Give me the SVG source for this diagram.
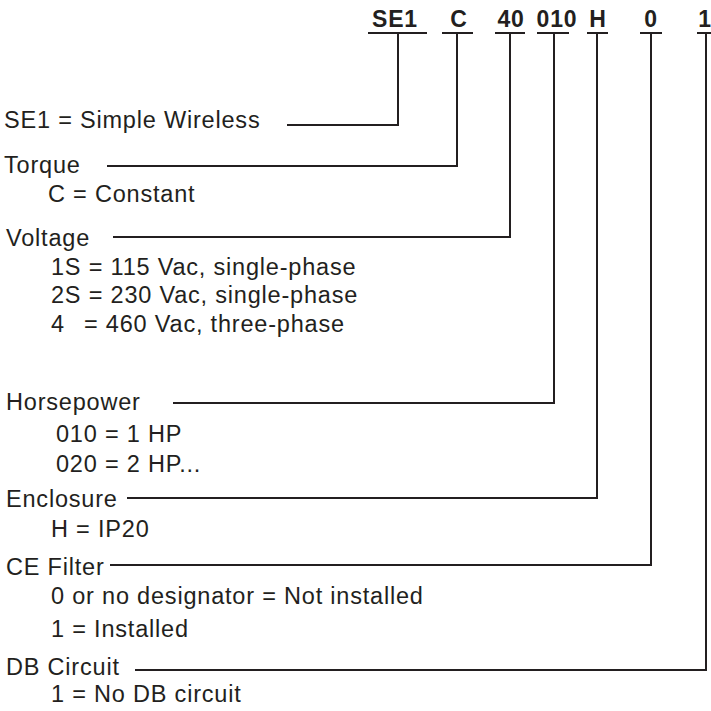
<svg xmlns="http://www.w3.org/2000/svg" width="711" height="711" viewBox="0 0 711 711">
<style>
  text { font-family: "Liberation Sans", Arial, sans-serif; fill: #231f20; }
  .lbl { font-size: 23.5px; letter-spacing: 0.8px; }
  .code { font-size: 23px; font-weight: bold; letter-spacing: 0.8px; text-anchor: middle; }
  .ul { stroke: #231f20; stroke-width: 2; fill: none; }
  .conn { stroke: #231f20; stroke-width: 2; fill: none; }
</style>
<rect width="711" height="711" fill="#ffffff"/>
<g id="code">
  <g id="code-se1"><text class="code" x="395" y="27">SE1</text><line class="ul" x1="368" y1="33" x2="427" y2="33"/></g>
  <g id="code-c"><text class="code" x="459" y="27">C</text><line class="ul" x1="442" y1="33" x2="473" y2="33"/></g>
  <g id="code-40"><text class="code" x="511" y="27">40</text><line class="ul" x1="495" y1="33" x2="525" y2="33"/></g>
  <g id="code-010"><text class="code" x="557" y="27">010</text><line class="ul" x1="537" y1="33" x2="569" y2="33"/></g>
  <g id="code-h"><text class="code" x="598" y="27">H</text><line class="ul" x1="587" y1="33" x2="608" y2="33"/></g>
  <g id="code-0"><text class="code" x="651" y="27">0</text><line class="ul" x1="640" y1="33" x2="662" y2="33"/></g>
  <g id="code-1"><text class="code" x="705" y="27">1</text><line class="ul" x1="697" y1="33" x2="711" y2="33"/></g>
</g>
<g id="connectors">
  <polyline class="conn" points="398,33 398,125 287,125"/>
  <polyline class="conn" points="457,33 457,166 107,166"/>
  <polyline class="conn" points="510,33 510,237 113,237"/>
  <polyline class="conn" points="554,33 554,403 173,403"/>
  <polyline class="conn" points="597,33 597,498 127,498"/>
  <polyline class="conn" points="651,33 651,565 110,565"/>
  <polyline class="conn" points="706,33 706,670 135,670"/>
</g>
<g id="node-series">
  <text class="lbl" x="4" y="128">SE1 = Simple Wireless</text>
</g>
<g id="node-torque">
  <text class="lbl" x="4" y="173">Torque</text>
  <text class="lbl" x="48" y="202">C = Constant</text>
</g>
<g id="node-voltage">
  <text class="lbl" x="6" y="246">Voltage</text>
  <text class="lbl" x="51" y="275">1S = 115 Vac, single-phase</text>
  <text class="lbl" x="51" y="303">2S = 230 Vac, single-phase</text>
  <text class="lbl" x="51" y="332">4<tspan x="84">= 460 Vac, three-phase</tspan></text>
</g>
<g id="node-horsepower">
  <text class="lbl" x="6" y="410">Horsepower</text>
  <text class="lbl" x="56" y="442">010 = 1 HP</text>
  <text class="lbl" x="56" y="472">020 = 2 HP...</text>
</g>
<g id="node-enclosure">
  <text class="lbl" x="6" y="507">Enclosure</text>
  <text class="lbl" x="51" y="537">H = IP20</text>
</g>
<g id="node-cefilter">
  <text class="lbl" x="6" y="575">CE Filter</text>
  <text class="lbl" x="51" y="604">0 or no designator = Not installed</text>
  <text class="lbl" x="51" y="637">1 = Installed</text>
</g>
<g id="node-dbcircuit">
  <text class="lbl" x="6" y="675">DB Circuit</text>
  <text class="lbl" x="51" y="702">1 = No DB circuit</text>
</g>
</svg>
